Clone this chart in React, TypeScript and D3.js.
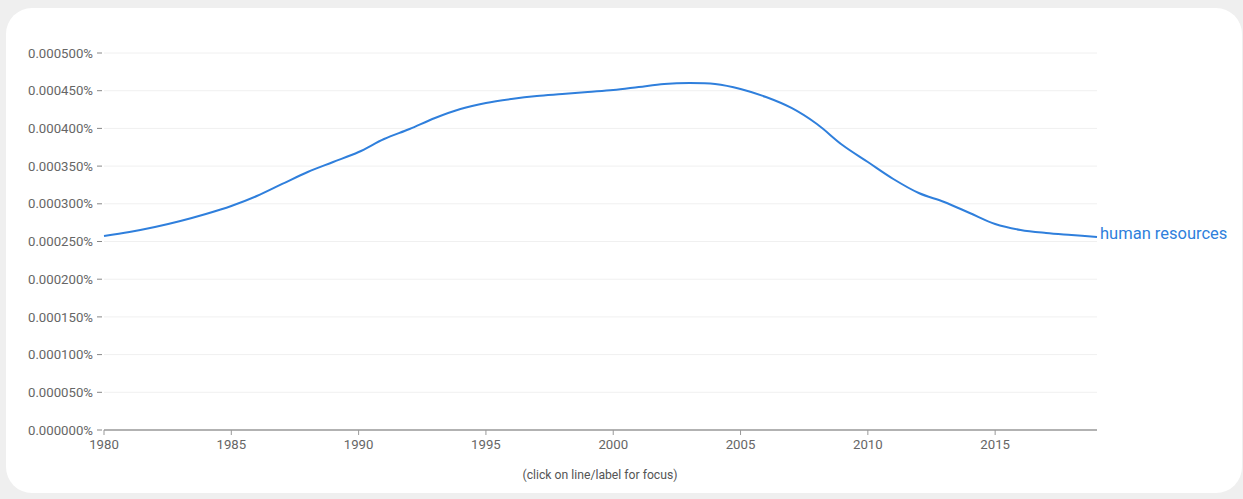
import React from "react";
import * as d3 from "d3";

const years: number[] = d3.range(1980, 2020);
const values: number[] = [
  0.0002573, 0.0002626, 0.0002692, 0.0002772, 0.0002865, 0.0002971, 0.0003103, 0.0003263,
  0.0003422, 0.0003554, 0.0003687, 0.0003859, 0.0003992, 0.0004138, 0.0004257, 0.0004337,
  0.000439, 0.000443, 0.0004456, 0.0004483, 0.0004509, 0.0004549, 0.0004589, 0.0004602,
  0.0004589, 0.0004523, 0.0004416, 0.0004271, 0.0004058, 0.000378, 0.0003554, 0.0003329,
  0.0003143, 0.0003024, 0.0002878, 0.0002732, 0.0002653, 0.0002613, 0.0002586, 0.000256,
];
const yTicks: number[] = [0, 0.00005, 0.0001, 0.00015, 0.0002, 0.00025, 0.0003, 0.00035, 0.0004, 0.00045, 0.0005];
const xTicks: number[] = [1980, 1985, 1990, 1995, 2000, 2005, 2010, 2015];
const seriesName = "human resources";
const footer = "(click on line/label for focus)";

const W = 1243;
const H = 499;
const left = 104;
const right = 1097;
const top = 53;
const bottom = 430;
const blue = "#2f7fdc";
const font = "Roboto, 'Noto Sans', Arial, sans-serif";

export default function App() {
  const x = d3.scaleLinear().domain([1980, 2019]).range([left, right]);
  const y = d3.scaleLinear().domain([0, 0.0005]).range([bottom, top]);
  const line = d3
    .line<number>()
    .x((_, i) => x(years[i]))
    .y((d) => y(d))
    .curve(d3.curveCatmullRom.alpha(0.5));
  const last = values[values.length - 1];
  return (
    <svg
      width={W}
      height={H}
      style={{ position: "absolute", left: 0, top: 0, display: "block" }}
      fontFamily={font}
    >
      <rect x={0} y={0} width={W} height={H} fill="#efefef" />
      <rect x={6} y={8} width={1236} height={485} rx={26} fill="#ffffff" />
      {yTicks.map((t) => (
        <g key={t}>
          {t > 0 && (
            <line x1={left} x2={right} y1={y(t)} y2={y(t)} stroke="#f0f0f0" strokeWidth={1} />
          )}
          <line x1={97} x2={102} y1={y(t)} y2={y(t)} stroke="#888" strokeWidth={1} />
          <text
            x={93}
            y={y(t)}
            dy="0.35em"
            textAnchor="end"
            fontSize={13.2}
            fill="#666"
          >
            {t.toFixed(6) + "%"}
          </text>
        </g>
      ))}
      <line x1={left} x2={right} y1={bottom} y2={bottom} stroke="#999" strokeWidth={1.5} />
      {xTicks.map((t) => (
        <g key={t}>
          <line x1={x(t)} x2={x(t)} y1={bottom} y2={bottom + 5} stroke="#999" strokeWidth={1} />
          <text x={x(t)} y={bottom + 19} textAnchor="middle" fontSize={13.2} fill="#666">
            {t}
          </text>
        </g>
      ))}
      <path d={line(values) || ""} fill="none" stroke={blue} strokeWidth={2} />
      <text x={right + 3} y={y(last) - 4} dy="0.35em" fontSize={16.5} fill={blue}>
        {seriesName}
      </text>
      <text x={600} y={479} textAnchor="middle" fontSize={12.2} fill="#555">
        {footer}
      </text>
    </svg>
  );
}
